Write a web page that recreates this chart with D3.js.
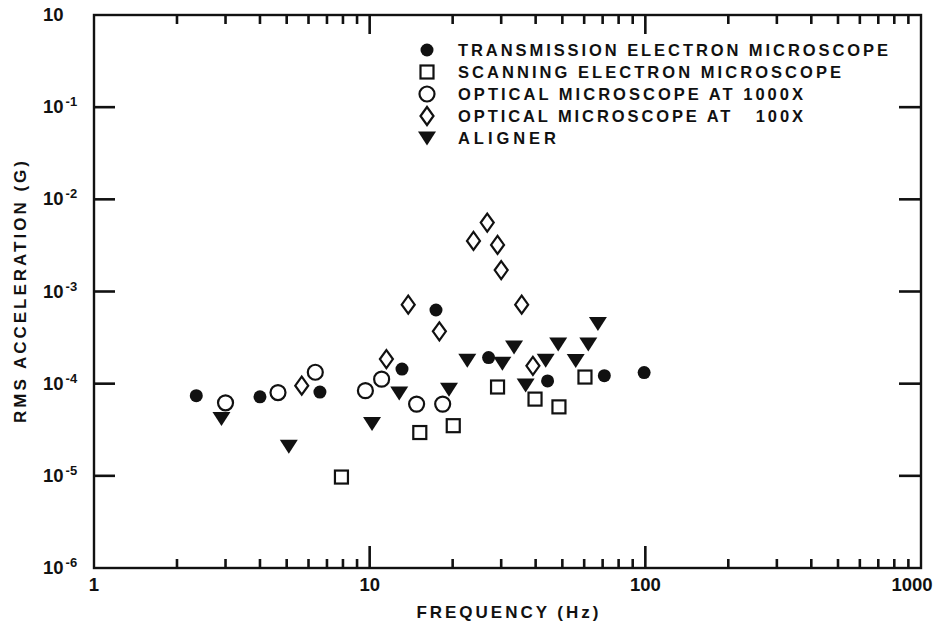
<!DOCTYPE html>
<html>
<head>
<meta charset="utf-8">
<script src="https://cdn.jsdelivr.net/npm/d3@7"></script>
<style>
  body { margin: 0; background: #fff; }
</style>
</head>
<body>
<div id="chart"></div>
<script>
// series: frequency (Hz) and rms acceleration (G)
const temFreq = [2.35, 4.0, 6.6, 13.1, 17.4, 27.0, 44.2, 71, 99];
const temAcc = [7.4e-5, 7.2e-5, 8.1e-5, 1.44e-4, 6.3e-4, 1.92e-4, 1.07e-4, 1.22e-4, 1.32e-4];

const semFreq = [7.9, 15.2, 20.1, 29.1, 39.8, 48.6, 60.4];
const semAcc = [9.7e-6, 2.95e-5, 3.5e-5, 9.2e-5, 6.8e-5, 5.6e-5, 1.18e-4];

const opt1000Freq = [3.0, 4.65, 6.35, 9.65, 11.05, 14.8, 18.4];
const opt1000Acc = [6.2e-5, 8.0e-5, 1.33e-4, 8.4e-5, 1.12e-4, 6.0e-5, 6.0e-5];

const opt100Freq = [5.67, 11.5, 13.8, 17.9, 23.8, 26.7, 29.1, 30.0, 35.6, 39.1];
const opt100Acc = [9.5e-5, 1.85e-4, 7.2e-4, 3.7e-4, 3.54e-3, 5.6e-3, 3.2e-3, 1.71e-3, 7.2e-4, 1.56e-4];

const alignerFreq = [2.9, 5.09, 10.2, 12.8, 19.4, 22.6, 30.3, 33.4, 36.8, 43.5, 48.3, 55.9, 62.1, 67.3];
const alignerAcc = [4.2e-5, 2.1e-5, 3.7e-5, 7.9e-5, 8.7e-5, 1.8e-4, 1.67e-4, 2.5e-4, 9.7e-5, 1.8e-4, 2.7e-4, 1.78e-4, 2.7e-4, 4.5e-4];

const seriesNames = [
  'TRANSMISSION ELECTRON MICROSCOPE',
  'SCANNING ELECTRON MICROSCOPE',
  'OPTICAL MICROSCOPE AT 1000X',
  'OPTICAL MICROSCOPE AT \u00a0\u00a0100X',
  'ALIGNER'
];
const seriesShapes = ['dot', 'square', 'circle', 'diamond', 'triangle'];

const xMajorTicks = [1, 10, 100, 1000];
const yMajorTicks = [1, 1e-1, 1e-2, 1e-3, 1e-4, 1e-5, 1e-6];

const ink = '#111';
const font = "'Liberation Sans', Arial, sans-serif";

const width = 939;
const height = 627;
const margin = { top: 15, right: 18, bottom: 59, left: 94 };
const innerW = width - margin.left - margin.right;
const innerH = height - margin.top - margin.bottom;

const svg = d3.select('#chart').append('svg')
  .attr('width', width)
  .attr('height', height)
  .attr('font-family', font)
  .attr('font-weight', 'bold');

const x = d3.scaleLog().domain([1, 1000]).range([0, innerW]);
const y = d3.scaleLog().domain([1e-6, 1]).range([innerH, 0]);

const chart = svg.append('g')
  .attr('transform', `translate(${margin.left}, ${margin.top})`);

// minor ticks 2..9 in each decade
const xMinorTicks = [];
[1, 10, 100].forEach(d => { for (let k = 2; k <= 9; k++) xMinorTicks.push(d * k); });
const xInnerMajor = xMajorTicks.slice(1, -1);
const yInnerMajor = yMajorTicks.slice(1, -1);

// frame
chart.append('rect')
  .attr('x', 0).attr('y', 0)
  .attr('width', innerW).attr('height', innerH)
  .attr('fill', 'none')
  .attr('stroke', ink)
  .attr('stroke-width', 2.4);

// tick marks, all pointing inward
const ticks = chart.append('g')
  .attr('stroke', ink)
  .attr('stroke-width', 2.6);

function vTicks(values, y1, y2) {
  values.forEach(v => {
    ticks.append('line')
      .attr('x1', x(v)).attr('x2', x(v))
      .attr('y1', y1).attr('y2', y2);
  });
}
function hTicks(values, x1, x2) {
  values.forEach(v => {
    ticks.append('line')
      .attr('x1', x1).attr('x2', x2)
      .attr('y1', y(v)).attr('y2', y(v));
  });
}
vTicks(xMinorTicks, innerH, innerH - 9);
vTicks(xMinorTicks, 0, 9);
vTicks(xInnerMajor, innerH, innerH - 22);
vTicks(xInnerMajor, 0, 19);
hTicks(yInnerMajor, 0, 21);
hTicks(yInnerMajor, innerW, innerW - 22);

// x tick labels
xMajorTicks.forEach(v => {
  chart.append('text')
    .attr('x', x(v) + (v === 1000 ? -9 : 0))
    .attr('y', innerH + 23)
    .attr('text-anchor', 'middle')
    .attr('font-size', 18.5)
    .attr('fill', ink)
    .text(d3.format('d')(v));
});

// y tick labels: 10 with superscript exponent
yMajorTicks.forEach(v => {
  const exp = Math.round(Math.log10(v));
  const t = chart.append('text')
    .attr('x', -51)
    .attr('y', y(v) + 6)
    .attr('font-size', 18.5)
    .attr('fill', ink);
  t.append('tspan').text('10');
  if (exp < 0) {
    t.append('tspan')
      .attr('dy', -7)
      .attr('dx', 2)
      .attr('font-size', 13)
      .text('-' + (-exp));
  }
});

// axis titles
svg.append('text')
  .attr('x', margin.left + x(31.6))
  .attr('y', 618)
  .attr('text-anchor', 'middle')
  .attr('textLength', 182)
  .attr('lengthAdjust', 'spacing')
  .attr('font-size', 17)
  .attr('fill', ink)
  .text('FREQUENCY (Hz)');

svg.append('text')
  .attr('transform', 'translate(26, 292) rotate(-90)')
  .attr('text-anchor', 'middle')
  .attr('textLength', 262)
  .attr('lengthAdjust', 'spacing')
  .attr('font-size', 17)
  .attr('fill', ink)
  .text('RMS ACCELERATION (G)');

// symbols
function drawSymbol(g, shape) {
  if (shape === 'dot') {
    g.append('circle').attr('r', 6.5).attr('fill', ink);
  } else if (shape === 'circle') {
    g.append('circle').attr('r', 7.5).attr('fill', 'none').attr('stroke', ink).attr('stroke-width', 2.2);
  } else if (shape === 'square') {
    g.append('rect').attr('x', -6.5).attr('y', -6.5).attr('width', 13).attr('height', 13)
      .attr('fill', 'none').attr('stroke', ink).attr('stroke-width', 2.2);
  } else if (shape === 'diamond') {
    g.append('path').attr('d', 'M0,-9L6.5,0L0,9L-6.5,0Z')
      .attr('fill', 'none').attr('stroke', ink).attr('stroke-width', 2.2);
  } else if (shape === 'triangle') {
    g.append('path').attr('d', 'M-9,-6.5L9,-6.5L0,7.5Z').attr('fill', ink);
  }
}

const seriesData = [
  [temFreq, temAcc],
  [semFreq, semAcc],
  [opt1000Freq, opt1000Acc],
  [opt100Freq, opt100Acc],
  [alignerFreq, alignerAcc]
];

// draw order so that filled marks sit on top like the print
[3, 2, 1, 4, 0].forEach(si => {
  const [fx, fy] = seriesData[si];
  const pts = fx.map((f, i) => ({ f: f, a: fy[i] }));
  chart.append('g')
    .selectAll('g')
    .data(pts)
    .enter()
    .append('g')
    .attr('transform', d => `translate(${x(d.f)}, ${y(d.a)})`)
    .each(function() { drawSymbol(d3.select(this), seriesShapes[si]); });
});

// legend
const legend = svg.append('g').attr('transform', 'translate(427, 50)');
const rowH = 22;
const legendWidths = [430, 383, 345, 345, 98];
seriesNames.forEach((name, i) => {
  const row = legend.append('g').attr('transform', `translate(0, ${i * rowH})`);
  drawSymbol(row.append('g'), seriesShapes[i]);
  row.append('text')
    .attr('x', 31)
    .attr('y', 6)
    .attr('textLength', legendWidths[i])
    .attr('lengthAdjust', 'spacing')
    .attr('font-size', 16.5)
    .attr('fill', ink)
    .text(name);
});
</script>
</body>
</html>
